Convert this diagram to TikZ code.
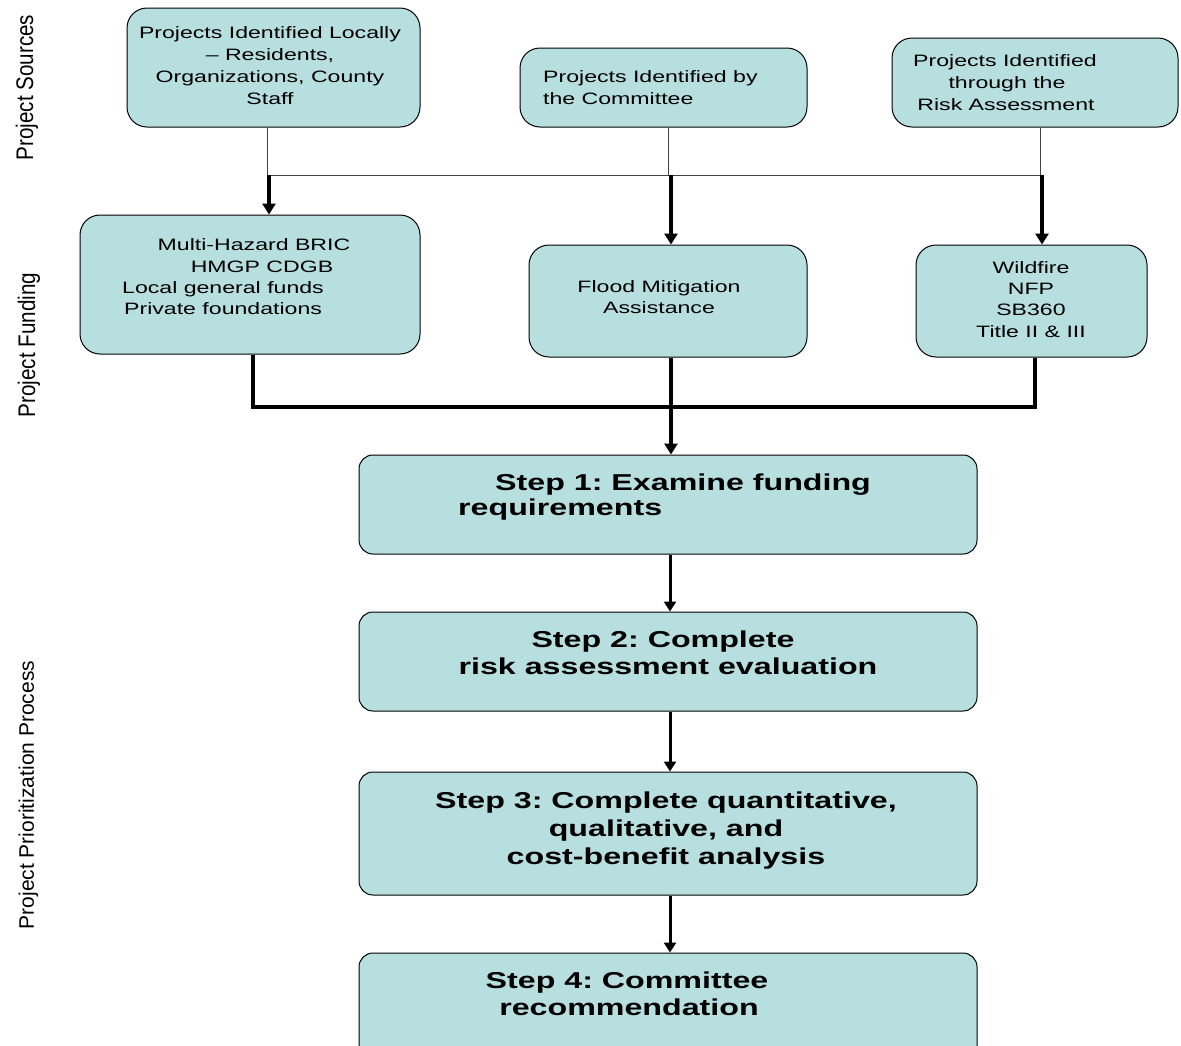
\documentclass[tikz,border=0pt]{standalone}
\usepackage{fontspec}
\setmainfont{Liberation Sans}
\newfontfamily\boxfont[FakeStretch=1.4]{Liberation Sans}
\newfontfamily\stepfont[FakeStretch=1.4]{Liberation Sans Bold}
\newfontfamily\sidefont[FakeStretch=0.86]{Liberation Sans}
\newfontfamily\sidefontn{Liberation Sans}
\usetikzlibrary{arrows.meta}
\definecolor{boxfill}{HTML}{B8DFE0}
\definecolor{thinline}{HTML}{444444}
\frenchspacing
\begin{document}
\begin{tikzpicture}[x=1pt,y=-1pt,
  srcbox/.style={draw=black, line width=1pt, fill=boxfill, rounded corners=20pt, inner sep=0pt},
  stepbox/.style={draw=black, line width=1pt, fill=boxfill, rounded corners=14pt, inner sep=0pt, minimum width=618pt},
  bt/.style={anchor=base, inner sep=0pt, font=\frenchspacing\boxfont\fontsize{16.5}{20}\selectfont},
  btl/.style={bt, anchor=base west},
  st/.style={anchor=base, inner sep=0pt, font=\frenchspacing\stepfont\fontsize{23}{27}\selectfont},
  stl/.style={st, anchor=base west},
  side/.style={anchor=base, rotate=90, inner sep=0pt, font=\sidefont\fontsize{24}{28}\selectfont},
  siden/.style={anchor=base, rotate=90, inner sep=0pt, font=\sidefontn\fontsize{21}{25}\selectfont},
  thinconn/.style={draw=thinline, line width=1pt},
  thickconn/.style={draw=black, line width=3.5pt, line join=miter},
  stepconn/.style={draw=black, line width=3pt},
  arr/.style={-{Triangle[width=13pt,length=11pt]}},
  arrs/.style={-{Triangle[width=12pt,length=10pt]}}]
\useasboundingbox (0,0) rectangle (1181,1045);
\clip (0,0) rectangle (1181,1045);

% side labels
\node[side] (lsrc) at (33,87.5) {Project Sources};
\node[side] (lfund) at (35,345) {Project Funding};
\node[siden] (lproc) at (34,795) {Project Prioritization Process};

% source boxes
\node[srcbox, minimum width=293pt, minimum height=119pt] (A) at (273.5,67.5) {};
\node[srcbox, minimum width=287pt, minimum height=79pt] (B) at (663.5,87.5) {};
\node[srcbox, minimum width=286pt, minimum height=89pt] (C) at (1035,82.5) {};
% funding boxes
\node[srcbox, minimum width=340pt, minimum height=139pt] (D) at (250,284.5) {};
\node[srcbox, minimum width=278pt, minimum height=112pt] (E) at (668,301) {};
\node[srcbox, minimum width=231pt, minimum height=112pt] (F) at (1031.5,301) {};
% steps
\node[stepbox, minimum height=99pt] (S1) at (668,504.5) {};
\node[stepbox, minimum height=99pt] (S2) at (668,661.5) {};
\node[stepbox, minimum height=123pt] (S3) at (668,833.5) {};
\node[stepbox, minimum height=110pt] (S4) at (668,1008) {};

% texts
\node[bt] (a1) at (270,38) {Projects Identified Locally};
\node[bt] (a2) at (270,60) {– Residents,};
\node[bt] (a3) at (270,82) {Organizations, County};
\node[bt] (a4) at (270,104) {Staff};

\node[btl] (b1) at (543,82) {Projects Identified by};
\node[btl] (b2) at (543,104) {the Committee};

\node[bt] (c1) at (1005,66) {Projects Identified};
\node[bt] (c2) at (1007,88) {through the};
\node[bt] (c3) at (1006,110) {Risk Assessment};

\node[bt] (d1) at (254,250) {Multi-Hazard BRIC};
\node[bt] (d2) at (262,272) {HMGP CDGB};
\node[btl] (d3) at (122,293) {Local general funds};
\node[btl] (d4) at (124,314) {Private foundations};

\node[bt] (e1) at (659,292) {Flood Mitigation};
\node[bt] (e2) at (659,313) {Assistance};

\node[bt] (f1) at (1031,273) {Wildfire};
\node[bt] (f2) at (1031,294) {NFP};
\node[bt] (f3) at (1031,315) {SB360};
\node[bt] (f4) at (1031,337) {Title II \& III};

\node[stl] (s11) at (495,490) {Step 1: Examine funding};
\node[stl] (s12) at (458,515) {requirements};
\node[st] (s21) at (663,647) {Step 2: Complete};
\node[st] (s22) at (668,674) {risk assessment evaluation};
\node[st] (s31) at (666,808) {Step 3: Complete quantitative,};
\node[st] (s32) at (666,836) {qualitative, and};
\node[st] (s33) at (666,864) {cost-benefit analysis};
\node[st] (s41) at (627,988) {Step 4: Committee};
\node[st] (s42) at (629,1015) {recommendation};

% connectors: sources to bus
\coordinate (jA) at (267,175);
\coordinate (jB) at (668,175);
\coordinate (jC) at (1040,175);
\draw[thinconn] (A.south -| jA) -- (jA) -- (jC);
\draw[thinconn] (B.south -| jB) -- (jB);
\draw[thinconn] (C.south -| jC) -- (jC);
% bus to funding
\coordinate (kA) at (269,175);
\coordinate (kB) at (671,175);
\coordinate (kC) at (1042,175);
\draw[thickconn,arr] (kA) -- (kA |- D.north);
\draw[thickconn,arr] (kB) -- (kB |- E.north);
\draw[thickconn,arr] (kC) -- (kC |- F.north);
% funding to step 1
\coordinate (mD) at (253,407);
\coordinate (mE) at (671,407);
\coordinate (mF) at (1035,407);
\draw[thickconn] (D.south -| mD) -- (mD) -- (mF) -- (F.south -| mF);
\draw[thickconn,arr] (E.south -| mE) -- (mE |- S1.north);
% steps
\coordinate (sx) at (670,0);
\draw[stepconn,arrs] (S1.south -| sx) -- (sx |- S2.north);
\draw[stepconn,arrs] (S2.south -| sx) -- (sx |- S3.north);
\draw[stepconn,arrs] (S3.south -| sx) -- (sx |- S4.north);
\end{tikzpicture}
\end{document}
